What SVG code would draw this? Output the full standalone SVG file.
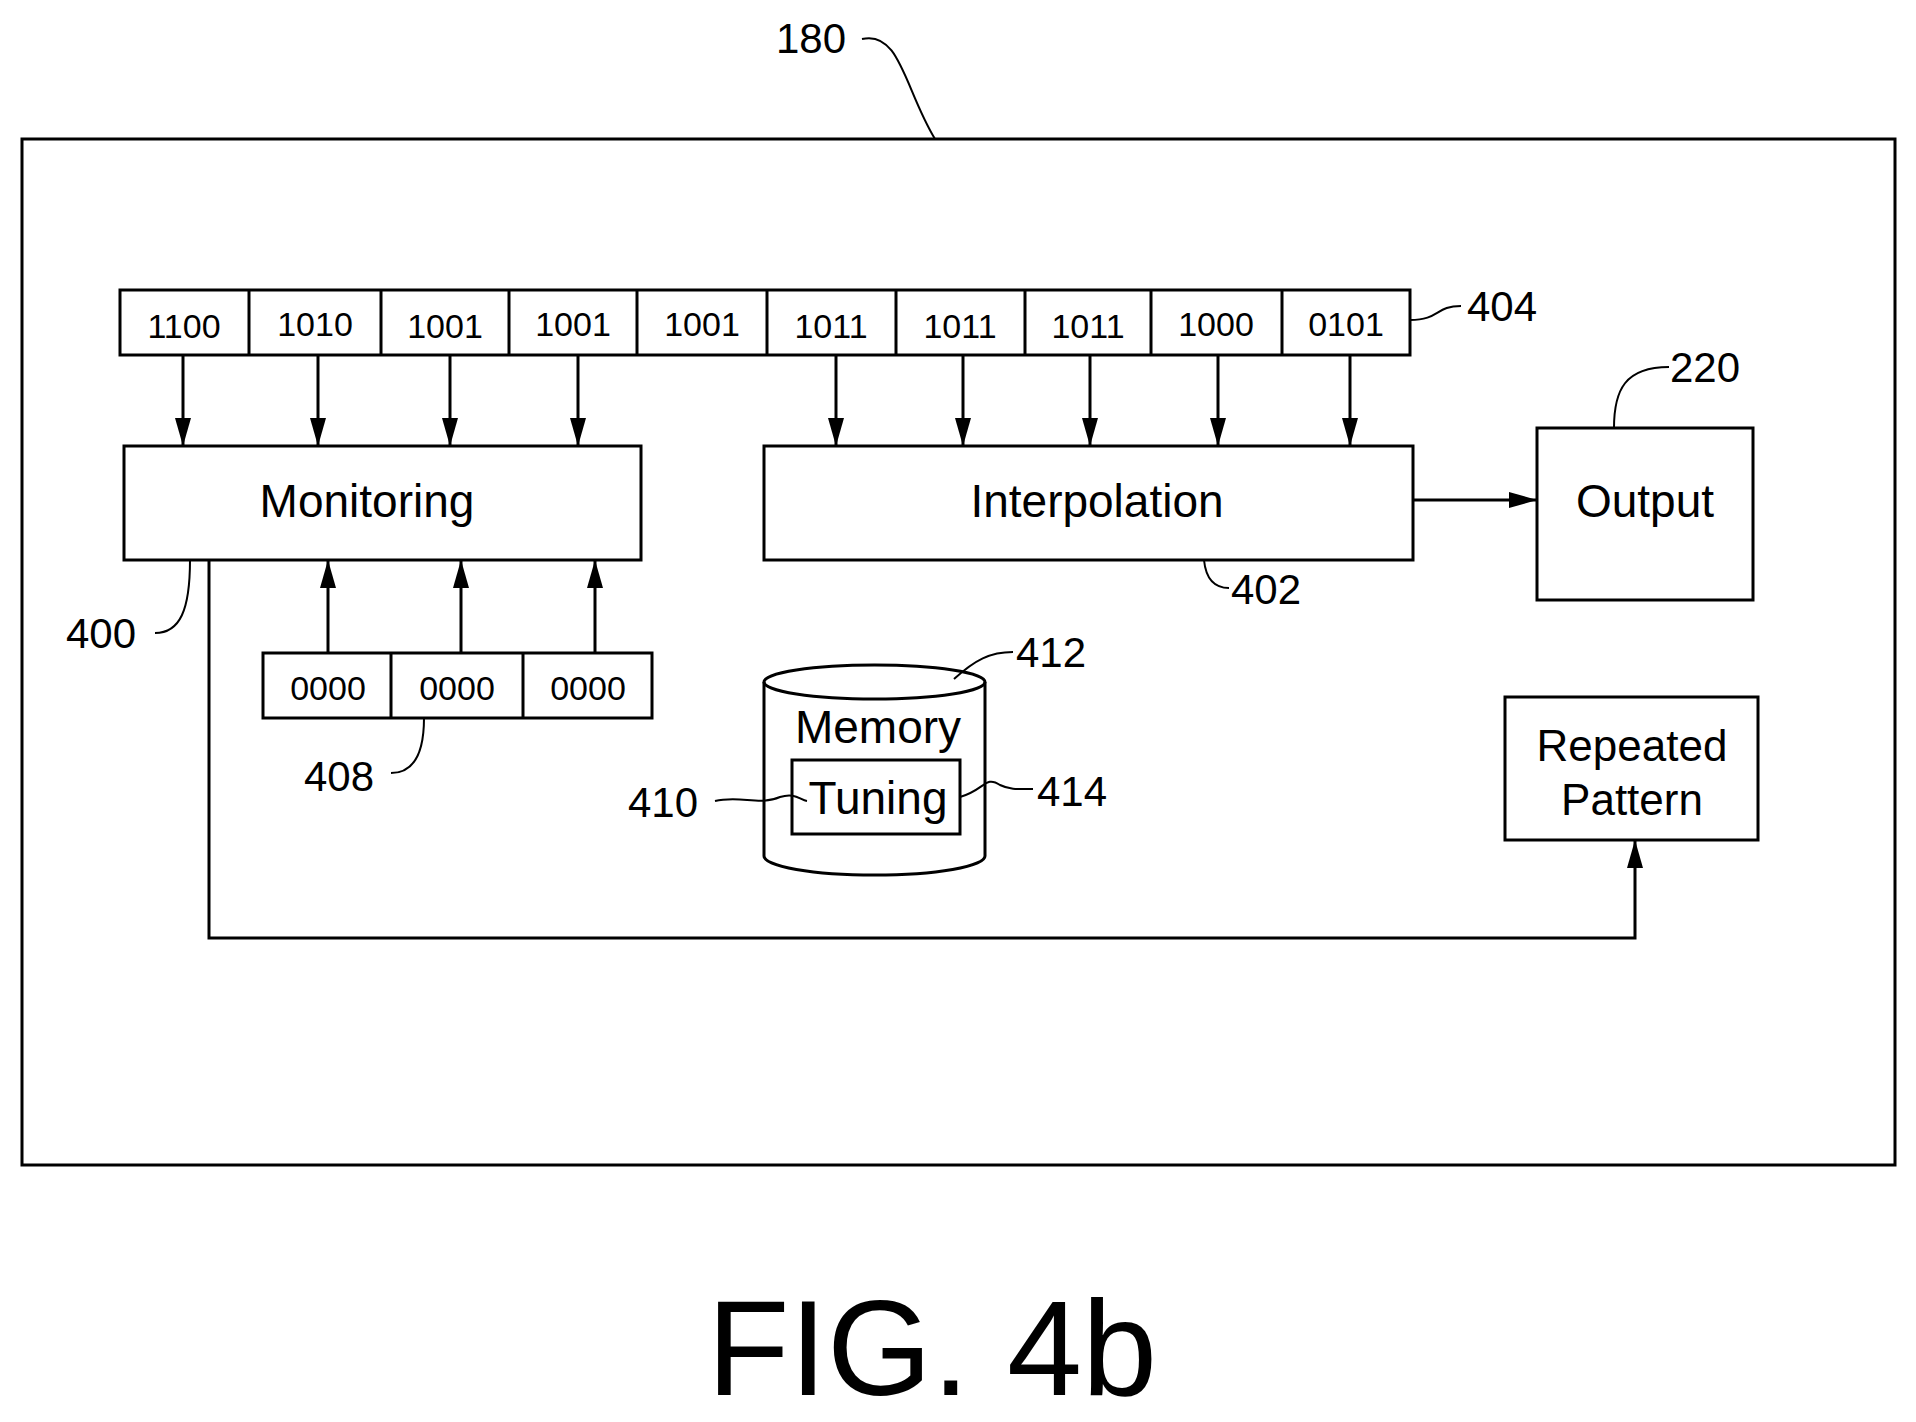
<svg xmlns="http://www.w3.org/2000/svg" width="1916" height="1422" viewBox="0 0 1916 1422">
<style>
.b{fill:none;stroke:#000;stroke-width:3}
.l{fill:none;stroke:#000;stroke-width:2}
.c{stroke:#000;stroke-width:3;fill:none;marker-end:url(#a)}
text{font-family:"Liberation Sans",Arial,sans-serif;fill:#000}
.d{font-size:34px;text-anchor:middle}
.n{font-size:42px}
.t{font-size:46px;text-anchor:middle}
</style>
<defs><marker id="a" markerUnits="userSpaceOnUse" markerWidth="30" markerHeight="20" refX="28" refY="8" orient="auto"><path d="M0,0 L28,8 L0,16 Z" fill="#000"/></marker></defs>
<rect width="1916" height="1422" fill="#fff"/>
<g id="frame"><rect class="b" x="22" y="139" width="1873" height="1026"/>
<text class="n" x="776" y="53">180</text><path class="l" d="M862,39 C900,30 905,90 935,139"/></g>
<g id="bits">
<rect class="b" x="120" y="290" width="1290" height="65"/>
<path class="b" d="M249,290V355M381,290V355M509,290V355M637,290V355M767,290V355M896,290V355M1025,290V355M1151,290V355M1282,290V355"/>
<g class="d">
<text x="184" y="338">1100</text><text x="315" y="336">1010</text><text x="445" y="338">1001</text><text x="573" y="336">1001</text><text x="702" y="336">1001</text><text x="831" y="338">1011</text><text x="960" y="338">1011</text><text x="1088" y="338">1011</text><text x="1216" y="336">1000</text><text x="1346" y="336">0101</text></g>
<text class="n" x="1467" y="321">404</text><path class="l" d="M1410,320 C1440,320 1435,306 1461,306"/></g>
<g id="monitoring"><rect class="b" x="124" y="446" width="517" height="114"/><text class="t" x="367" y="517">Monitoring</text>
<text class="n" x="66" y="648">400</text><path class="l" d="M190,560 C190,610 180,633 155,633"/></g>
<g id="interpolation"><rect class="b" x="764" y="446" width="649" height="114"/><text class="t" x="1097" y="517">Interpolation</text>
<text class="n" x="1231" y="604">402</text><path class="l" d="M1204,560 C1206,580 1215,588 1229,588"/></g>
<g id="output"><rect class="b" x="1537" y="428" width="216" height="172"/><text class="t" x="1645" y="517">Output</text>
<text class="n" x="1670" y="382">220</text><path class="l" d="M1614,428 C1614,390 1625,367 1669,367"/></g>
<g id="zeros"><rect class="b" x="263" y="653" width="389" height="65"/><path class="b" d="M391,653V718M523,653V718"/>
<g class="d"><text x="328" y="700">0000</text><text x="457" y="700">0000</text><text x="588" y="700">0000</text></g>
<text class="n" x="304" y="791">408</text><path class="l" d="M424,718 C424,760 410,773 391,773"/></g>
<g id="memory"><path class="b" d="M764,682 V856 A110.5,19 0 0 0 985,856 V682"/><ellipse class="b" cx="874.5" cy="682" rx="110.5" ry="17"/>
<text class="t" x="878" y="743">Memory</text>
<rect class="b" x="792" y="760" width="168" height="74"/><text class="t" x="878" y="814">Tuning</text>
<text class="n" x="628" y="817">410</text><path class="l" d="M715,801 C740,795 760,806 780,797 C795,792 800,800 807,801"/>
<text class="n" x="1016" y="667">412</text><path class="l" d="M954,679 C975,660 990,652 1013,652"/>
<text class="n" x="1037" y="806">414</text><path class="l" d="M960,797 C985,790 985,775 1000,785 C1010,790 1020,789 1033,789"/></g>
<g id="repeated"><rect class="b" x="1505" y="697" width="253" height="143"/><text class="t" x="1632" y="761" style="font-size:44px">Repeated</text><text class="t" x="1632" y="815" style="font-size:44px">Pattern</text></g>
<g id="connectors">
<path class="c" d="M183,355V446"/><path class="c" d="M318,355V446"/><path class="c" d="M450,355V446"/><path class="c" d="M578,355V446"/>
<path class="c" d="M836,355V446"/><path class="c" d="M963,355V446"/><path class="c" d="M1090,355V446"/><path class="c" d="M1218,355V446"/><path class="c" d="M1350,355V446"/>
<path class="c" d="M1413,500H1537"/>
<path class="c" d="M328,653V560"/><path class="c" d="M461,653V560"/><path class="c" d="M595,653V560"/>
<path class="c" d="M209,560V938H1635V840"/>
</g>
<text x="932" y="1395" style="font-size:135px;text-anchor:middle">FIG. 4b</text>
</svg>
